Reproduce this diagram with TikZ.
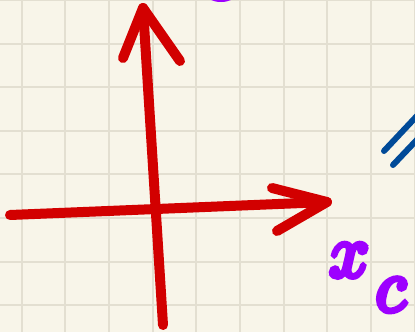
\documentclass[tikz,border=0pt]{standalone}
\usepackage{xcolor}
\usepackage{graphicx}
\definecolor{paper}{HTML}{F8F5E9}
\definecolor{gridc}{HTML}{E3DFD1}
\definecolor{pen}{HTML}{D20000}
\definecolor{inkviolet}{HTML}{9D00FF}
\definecolor{navy}{HTML}{004A98}
\newcommand{\thickink}[1]{\special{pdf:literal direct 2 Tr 0.7 w}#1\special{pdf:literal direct 0 Tr 1 w}}
\begin{document}
\begin{tikzpicture}[x=1pt,y=-1pt,
  redpen/.style={pen, line width=10pt, line cap=round, line join=round},
  bluepen/.style={navy, line width=6pt, line cap=round},
  gridline/.style={gridc, line width=2pt},
  handlabel/.style={text=inkviolet, inner sep=0pt}]
\fill[paper] (0,0) rectangle (415,332);
\useasboundingbox (0,0) rectangle (415,332);
\clip (0,0) rectangle (415,332);
\foreach \i in {0,...,9} \draw[gridline] ({21.8+43.65*\i},0) -- ++(0,332);
\foreach \j in {0,...,7} \draw[gridline] (0,{43.6*\j}) -- ++(415,0);
% blue strokes
\coordinate (b1s) at (384,151); \coordinate (b1e) at (430,102);
\coordinate (b2s) at (393,165); \coordinate (b2e) at (430,126);
\draw[bluepen] (b1s) -- (b1e);
\draw[bluepen] (b2s) -- (b2e);
% axes
\coordinate (xs) at (10,215); \coordinate (xe) at (327,202);
\coordinate (xa1) at (272,188); \coordinate (xa2) at (277,231);
\coordinate (ys) at (163,325); \coordinate (ye) at (143,8);
\coordinate (ya1) at (123,58); \coordinate (ya2) at (180,61);
\draw[redpen] (ys) -- (ye);
\draw[redpen] (ya1) -- (ye) -- (ya2);
\draw[redpen] (xs) -- (xe);
\draw[redpen] (xa1) -- (xe) -- (xa2);
% labels
\fill[inkviolet] (221,-5) ellipse (14 and 7);
\node[handlabel, anchor=north west] (xc) at (329,244) {\scalebox{7}[7.5]{\thickink{$x$\hspace{0.9pt}\raisebox{-4.6pt}{$c$}}}};
\end{tikzpicture}
\end{document}
